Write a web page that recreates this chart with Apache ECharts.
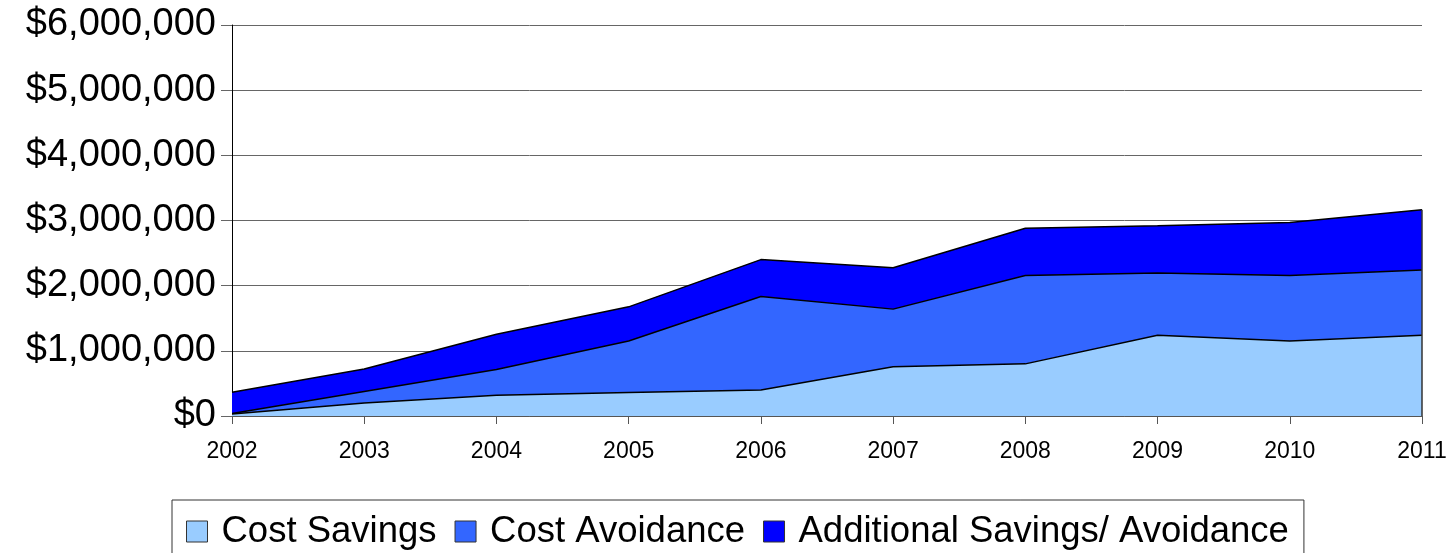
<!DOCTYPE html>
<html>
<head>
<meta charset="utf-8">
<script src="https://cdn.jsdelivr.net/npm/echarts@6/dist/echarts.min.js"></script>
<style>
html,body{margin:0;padding:0;background:#fff;}
#chart{width:1450px;height:553px;}
</style>
</head>
<body>
<div id="chart"></div>
<script>
var years = ['2002','2003','2004','2005','2006','2007','2008','2009','2010','2011'];
var costSavings = [30000, 200000, 320000, 360000, 400000, 755000, 800000, 1240000, 1150000, 1240000];
var costAvoidance = [10000, 175000, 395000, 790000, 1435000, 885000, 1355000, 955000, 1005000, 1000000];
var additional = [325000, 345000, 540000, 525000, 565000, 635000, 725000, 725000, 815000, 925000];
var seriesNames = ['Cost Savings', 'Cost Avoidance', 'Additional Savings/ Avoidance'];
var seriesColors = ['#99CCFF', '#3366FF', '#0000FF'];
var seriesData = [costSavings, costAvoidance, additional];

var chart = echarts.init(document.getElementById('chart'), null, {renderer: 'canvas'});
var font = '"Liberation Sans", Arial, sans-serif';

var lastIdx = years.length - 1;
var lastTotal = costSavings[lastIdx] + costAvoidance[lastIdx] + additional[lastIdx];

var series = seriesNames.map(function (n, i) {
  var s = {
    name: n,
    type: 'line',
    stack: 'total',
    data: seriesData[i],
    symbol: 'none',
    smooth: false,
    itemStyle: {color: seriesColors[i]},
    lineStyle: {color: '#000', width: 1.5},
    areaStyle: {color: seriesColors[i], opacity: 1},
    z: 2
  };
  if (i === seriesNames.length - 1) {
    s.markLine = {
      silent: true,
      symbol: 'none',
      label: {show: false},
      lineStyle: {color: '#333', width: 1.5, type: 'solid'},
      data: [[{coord: [years[lastIdx], 0]}, {coord: [years[lastIdx], lastTotal]}]]
    };
  }
  return s;
});

chart.setOption({
  animation: false,
  backgroundColor: '#fff',
  grid: {left: 232, right: 28, top: 25, bottom: 137, containLabel: false},
  xAxis: {
    type: 'category',
    data: years,
    boundaryGap: false,
    axisLine: {lineStyle: {color: '#555', width: 1}},
    axisTick: {show: true, length: 8, lineStyle: {color: '#555'}},
    axisLabel: {color: '#000', fontSize: 23, fontFamily: font, margin: 24}
  },
  yAxis: {
    type: 'value',
    min: 0,
    max: 6000000,
    interval: 1000000,
    axisLine: {show: true, lineStyle: {color: '#000', width: 1}},
    axisTick: {show: true, length: 11, lineStyle: {color: '#666'}},
    splitLine: {show: true, lineStyle: {color: '#666', width: 1}},
    axisLabel: {
      color: '#000', fontSize: 38, fontFamily: font, margin: 16,
      formatter: function (v) { return '$' + v.toLocaleString('en-US'); }
    }
  },
  legend: {
    data: seriesNames,
    left: 172,
    top: 500,
    icon: 'rect',
    itemWidth: 21,
    itemHeight: 21,
    itemGap: 18,
    padding: [13, 15, 30, 14],
    borderColor: '#333',
    borderWidth: 1,
    backgroundColor: '#fff',
    itemStyle: {borderColor: '#333', borderWidth: 1},
    textStyle: {color: '#000', fontSize: 36.5, fontFamily: font, padding: [0, 0, 0, 9]}
  },
  series: series
});
</script>
</body>
</html>
